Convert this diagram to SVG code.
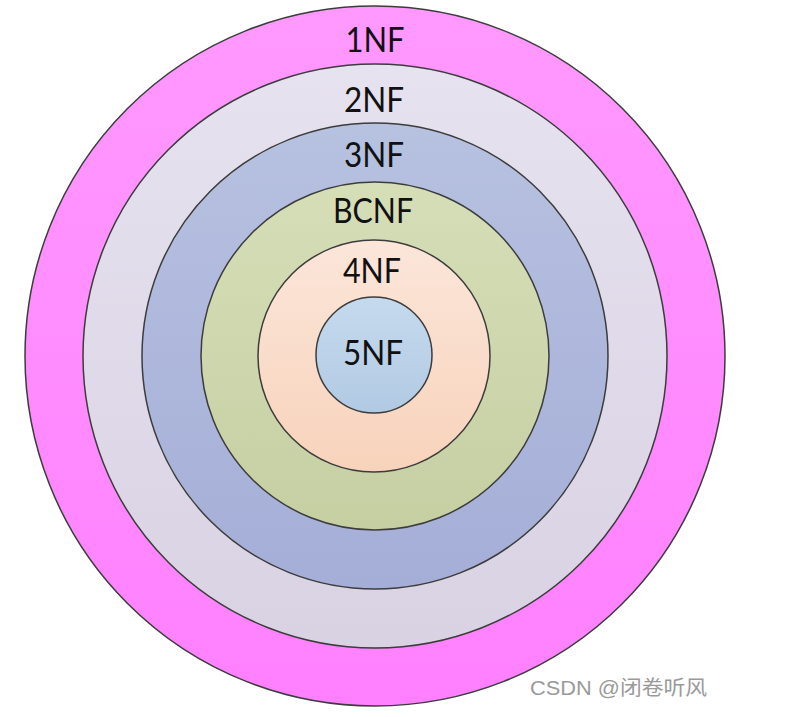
<svg xmlns="http://www.w3.org/2000/svg" width="799" height="717" viewBox="0 0 799 717">
<defs>
<linearGradient id="g1" x1="0" y1="0" x2="0" y2="1"><stop offset="0" stop-color="#ff99ff"/><stop offset="1" stop-color="#ff80ff"/></linearGradient>
<linearGradient id="g2" x1="0" y1="0" x2="0" y2="1"><stop offset="0" stop-color="#e6e2ef"/><stop offset="1" stop-color="#d9d2e3"/></linearGradient>
<linearGradient id="g3" x1="0" y1="0" x2="0" y2="1"><stop offset="0" stop-color="#b7c1e0"/><stop offset="1" stop-color="#a5aed7"/></linearGradient>
<linearGradient id="g4" x1="0" y1="0" x2="0" y2="1"><stop offset="0" stop-color="#d6deb8"/><stop offset="1" stop-color="#c6cfa2"/></linearGradient>
<linearGradient id="g5" x1="0" y1="0" x2="0" y2="1"><stop offset="0" stop-color="#fbe6da"/><stop offset="1" stop-color="#f8d3bb"/></linearGradient>
<linearGradient id="g6" x1="0" y1="0" x2="0" y2="1"><stop offset="0" stop-color="#c6daee"/><stop offset="1" stop-color="#b1cae3"/></linearGradient>
</defs>
<style>
.ring{stroke:#3c3c3c;stroke-width:1.5}
.lbl{font-family:Lato,"Open Sans","Liberation Sans",sans-serif;font-size:34px;fill:#111;text-anchor:middle}
.wm{font-family:"Liberation Sans","Noto Sans CJK SC",sans-serif;font-size:20px;fill:#9a9a9a}
</style>
<rect width="799" height="717" fill="#ffffff"/>
<g id="n1NF"><circle class="ring" cx="375" cy="356" r="350" fill="url(#g1)"/><text class="lbl" x="375" y="52" textLength="59" lengthAdjust="spacingAndGlyphs">1NF</text></g>
<g id="n2NF"><circle class="ring" cx="375" cy="356" r="292" fill="url(#g2)"/><text class="lbl" x="374" y="112" textLength="60" lengthAdjust="spacingAndGlyphs">2NF</text></g>
<g id="n3NF"><circle class="ring" cx="375" cy="356" r="233" fill="url(#g3)"/><text class="lbl" x="374" y="167" textLength="60" lengthAdjust="spacingAndGlyphs">3NF</text></g>
<g id="nBCNF"><circle class="ring" cx="375" cy="356" r="174" fill="url(#g4)"/><text class="lbl" x="373" y="223" textLength="80" lengthAdjust="spacingAndGlyphs">BCNF</text></g>
<g id="n4NF"><circle class="ring" cx="374" cy="356" r="116" fill="url(#g5)"/><text class="lbl" x="372" y="283" textLength="58" lengthAdjust="spacingAndGlyphs">4NF</text></g>
<g id="n5NF"><circle class="ring" cx="374" cy="355" r="58" fill="url(#g6)"/><text class="lbl" x="373" y="365" textLength="60" lengthAdjust="spacingAndGlyphs">5NF</text></g>
<g id="connectors"/>
<text class="wm" x="530" y="695" textLength="177" lengthAdjust="spacingAndGlyphs">CSDN @闭卷听风</text>
</svg>
